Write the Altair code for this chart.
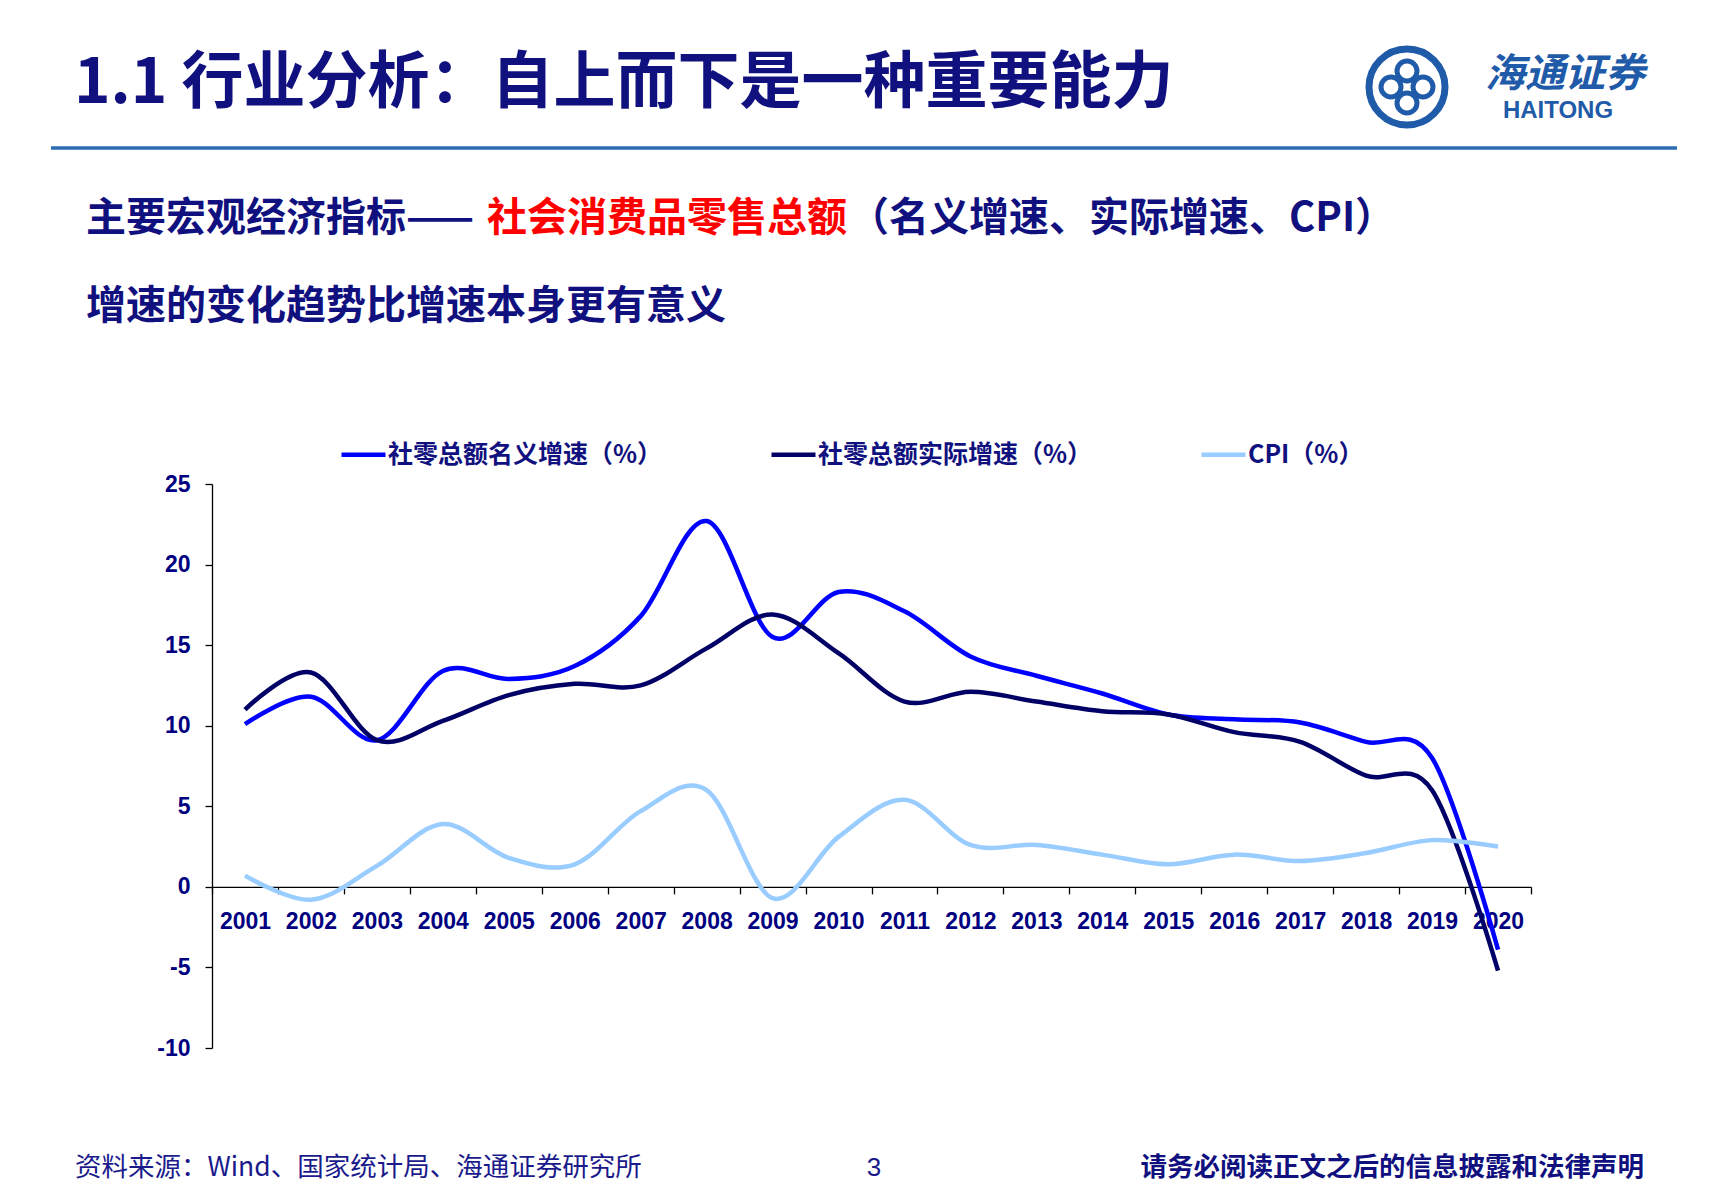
import altair as alt
import pandas as pd

# ---------------- data ----------------
years = [str(y) for y in range(2001, 2021)]
nominal = [10.1, 11.8, 9.1, 13.4, 12.9, 13.7, 16.8, 22.7, 15.5, 18.3,
           17.1, 14.3, 13.1, 12.0, 10.7, 10.4, 10.2, 9.0, 8.0, -3.9]
real = [11.0, 13.3, 9.1, 10.3, 11.9, 12.6, 12.5, 14.8, 16.9, 14.5,
        11.5, 12.1, 11.5, 10.9, 10.7, 9.6, 9.0, 6.9, 6.0, -5.2]
cpi = [0.7, -0.8, 1.3, 3.9, 1.8, 1.4, 4.7, 6.0, -0.7, 3.1,
       5.4, 2.6, 2.6, 2.0, 1.4, 2.0, 1.6, 2.1, 2.9, 2.5]
series_names = ["社零总额名义增速（%）", "社零总额实际增速（%）", "CPI（%）"]
series_colors = ["#0000FF", "#000066", "#99CCFF"]
y_ticks = [-10, -5, 0, 5, 10, 15, 20, 25]

title_text = "1.1 行业分析：自上而下是一种重要能力"
sub1_a = "主要宏观经济指标——"
sub1_b = "社会消费品零售总额"
sub1_c = "（名义增速、实际增速、CPI）"
sub2 = "增速的变化趋势比增速本身更有意义"
footer_left = "资料来源：Wind、国家统计局、海通证券研究所"
footer_page = "3"
footer_right = "请务必阅读正文之后的信息披露和法律声明"
logo_cn = "海通证券"
logo_en = "HAITONG"

rows = []
for name, vals in zip(series_names, [nominal, real, cpi]):
    for yr, v in zip(years, vals):
        rows.append({"year": yr, "value": v, "series": name})
df = pd.DataFrame(rows)

# ---------------- layout ----------------
W, H = 1319, 564
NAVY = "#10107F"
AXIS_NAVY = "#000080"
CJK = "Noto Sans CJK SC"

lines = alt.Chart(df).mark_line(interpolate="cardinal", strokeWidth=4.5).encode(
    x=alt.X(
        "year:O",
        scale=alt.Scale(type="band", paddingInner=0, paddingOuter=0),
        bandPosition=0.5,
        axis=alt.Axis(
            title=None, labelAngle=0, tickBand="extent", offset=-H * 10 / 35,
            domainColor="black", domainWidth=1.3, tickColor="black", tickWidth=1.3,
            tickSize=7, labelFont="Liberation Sans", labelFontSize=23,
            labelFontWeight="bold", labelColor=AXIS_NAVY, labelPadding=17,
            labelOverlap=False, grid=False,
        ),
    ),
    y=alt.Y(
        "value:Q",
        scale=alt.Scale(domain=[-10, 25], nice=False, zero=False),
        axis=alt.Axis(
            title=None, values=y_ticks, grid=False, domainColor="black",
            domainWidth=1.3, tickColor="black", tickWidth=1.3, tickSize=7,
            labelFont="Liberation Sans", labelFontSize=23, labelFontWeight="bold",
            labelColor=AXIS_NAVY, labelPadding=15,
            labelExpr="datum.value < 0 ? '-' + abs(datum.value) : '' + datum.value",
        ),
    ),
    color=alt.Color(
        "series:N",
        scale=alt.Scale(domain=series_names, range=series_colors),
        legend=alt.Legend(
            title=None, orient="none", legendX=127, legendY=-54,
            direction="horizontal", symbolType="stroke", symbolSize=1936,
            symbolStrokeWidth=4.5, labelFont=CJK, labelFontSize=25,
            labelFontWeight="bold", labelColor=NAVY, labelOffset=0,
            columnPadding=99, labelLimit=500, padding=0,
        ),
    ),
)


def txt(text, x, y, size, color, weight="bold", align="left", font=CJK, style="normal"):
    return alt.Chart(alt.Data(values=[{"t": text}])).mark_text(
        align=align, baseline="middle", font=font, fontSize=size,
        fontWeight=weight, color=color, fontStyle=style,
    ).encode(x=alt.value(x), y=alt.value(y), text="t:N")


def dot(x, y, d, sw, color="#1F5BA8"):
    return alt.Chart(alt.Data(values=[{"a": 1}])).mark_point(
        shape="circle", size=d * d, filled=False, strokeWidth=sw, color=color, opacity=1,
    ).encode(x=alt.value(x), y=alt.value(y))


header_rule = alt.Chart(alt.Data(values=[{"a": 1}])).mark_rule(
    color="#2E6DB2", strokeWidth=3.5
).encode(x=alt.value(-161), x2=alt.value(1465), y=alt.value(-336))

layers = [
    lines,
    txt(title_text, -138, -400, 62, NAVY),
    header_rule,
    txt(sub1_a, -126, -265, 40, NAVY),
    txt(sub1_b, 275, -265, 40, "#FF0000"),
    txt(sub1_c, 637, -265, 40, NAVY),
    txt(sub2, -126, -177, 40, NAVY),
    txt(footer_left, -137, 684, 26.5, "#1A1A8C", weight="normal"),
    txt(footer_page, 662, 684, 26, "#1A1A8C", weight="normal", align="center", font="Liberation Sans"),
    txt(footer_right, 1432, 684, 26.5, NAVY, align="right"),
    # logo
    dot(1195, -397, 76, 7),
    dot(1195, -413, 20, 5),
    dot(1195, -381, 20, 5),
    dot(1179, -397, 20, 5),
    dot(1211, -397, 20, 5),
    txt(logo_cn, 1353, -409, 40, "#1F5BA8", align="center", style="italic"),
    txt(logo_en, 1346, -373, 24, "#1F5BA8", align="center", font="Liberation Sans"),
]

chart = alt.layer(*layers).properties(
    width=W, height=H,
    autosize=alt.AutoSizeParams(type="none"),
    padding={"left": 204, "top": 476, "right": 193, "bottom": 140},
    background="white",
).configure_view(stroke=None)

chart.save("out.html", embed_options={"renderer": "svg", "actions": False})
